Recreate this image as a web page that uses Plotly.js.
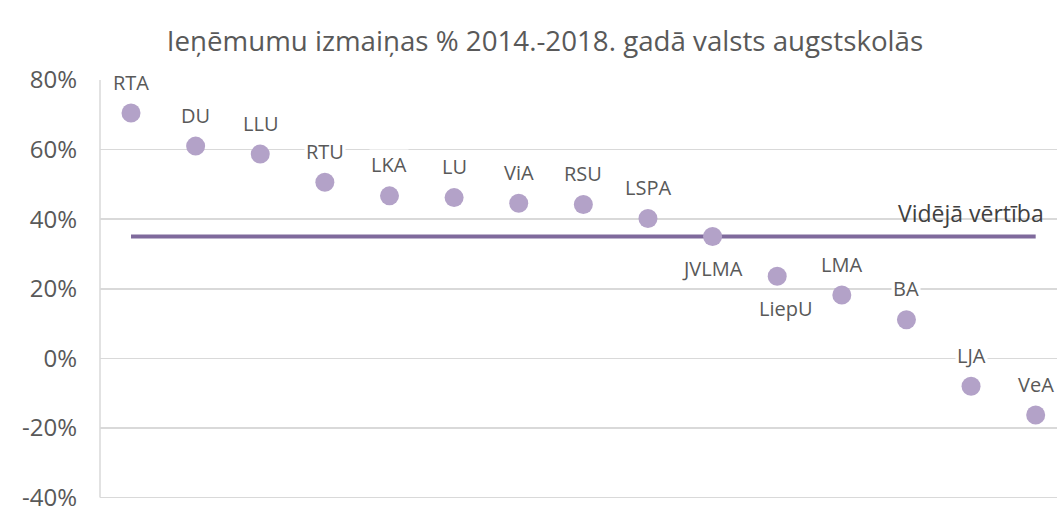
<!DOCTYPE html>
<html>
<head>
<meta charset="utf-8">
<script src="https://cdn.plot.ly/plotly-3.0.1.min.js"></script>
<style>html,body{margin:0;padding:0;background:#fff;}#chart{width:1057px;height:506px;}</style>
</head>
<body>
<div id="chart"></div>
<script>
var categories = ["RTA","DU","LLU","RTU","LKA","LU","ViA","RSU","LSPA","JVLMA","LiepU","LMA","BA","LJA","VeA"];
var changeValues = [0.705, 0.61, 0.587, 0.506, 0.467, 0.462, 0.446, 0.442, 0.402, 0.35, 0.236, 0.182, 0.111, -0.08, -0.163];
var averageValue = 0.35;
var averageLabel = "Vidējā vērtība";
var labelBelow = ["JVLMA","LiepU"];
var titleText = "Ieņēmumu izmaiņas % 2014.-2018. gadā valsts augstskolās";
var tickValues = [-0.4, -0.2, 0, 0.2, 0.4, 0.6, 0.8];
var tickLabels = ["-40%", "-20%", "0%", "20%", "40%", "60%", "80%"];

var idx = categories.map(function(c, i){ return i; });

var avgTrace = {
  x: idx, y: idx.map(function(){ return averageValue; }),
  type: 'scatter', mode: 'lines',
  line: {color: '#7f6a9c', width: 4},
  hoverinfo: 'skip', cliponaxis: false
};
var ptsTrace = {
  x: idx, y: changeValues, text: categories,
  type: 'scatter', mode: 'markers',
  marker: {color: '#b3a2c8', size: 19},
  cliponaxis: false
};

var annotations = categories.map(function(c, i){
  var below = labelBelow.indexOf(c) >= 0;
  return {
    x: i, y: changeValues[i], xref: 'x', yref: 'y',
    text: c, showarrow: false,
    yshift: below ? -32 : 31,
    xshift: c === "LiepU" ? 9 : 0,
    bgcolor: '#ffffff', borderpad: 1,
    font: {family: 'Open Sans', size: 20, color: '#595959'}
  };
});
annotations.push({
  x: categories.length - 1, y: averageValue, xref: 'x', yref: 'y',
  text: averageLabel, showarrow: false, xanchor: 'right', xshift: 10, yshift: 24,
  font: {family: 'Open Sans', size: 23, color: '#404040'}
});

var layout = {
  width: 1057, height: 506,
  margin: {l: 100, r: 0, t: 80, b: 5},
  paper_bgcolor: '#ffffff', plot_bgcolor: '#ffffff',
  showlegend: false,
  title: {text: titleText, x: 0.5156, xanchor: 'center', y: 0.918, yanchor: 'middle',
          font: {family: 'Open Sans', size: 27.7, color: '#595959'}},
  xaxis: {range: [-0.48, 14.33], showgrid: false, zeroline: false, showticklabels: false,
          showline: false, ticks: '', fixedrange: true},
  yaxis: {range: [-0.41, 0.8], tickvals: tickValues, ticktext: tickLabels,
          showgrid: true, gridcolor: '#d9d9d9', gridwidth: 1.5,
          zeroline: false, showline: false, ticks: '', ticklabelstandoff: 22,
          ticklabeloverflow: 'allow',
          tickfont: {family: 'Open Sans', size: 24, color: '#595959'}, fixedrange: true},
  shapes: [{type: 'line', xref: 'paper', yref: 'y', x0: 0, x1: 0, y0: -0.4, y1: 0.8,
            line: {color: '#d9d9d9', width: 1.5}, layer: 'below'}],
  annotations: annotations
};

Plotly.newPlot('chart', [avgTrace, ptsTrace], layout, {displayModeBar: false, staticPlot: true});
</script>
</body>
</html>
